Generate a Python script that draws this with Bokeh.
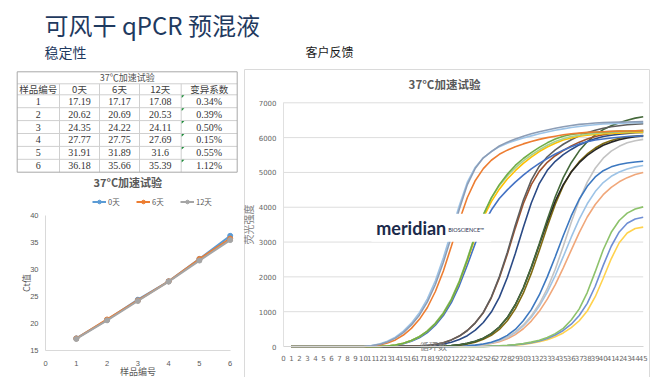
from bokeh.plotting import figure
from bokeh.models import (Range1d, FixedTicker, Legend, LegendItem, Label, BoxAnnotation,
                          LinearAxis)
from bokeh.embed import file_html
from bokeh.resources import INLINE
from bokeh.core.properties import value

CJK = "Noto Sans CJK SC"

# ---------------- texts ----------------
main_title = "可风干 qPCR 预混液"
left_heading = "稳定性"
right_heading = "客户反馈"

# ---------------- table data ----------------
table_title = "37℃加速试验"
table_headers = ["样品编号", "0天", "6天", "12天", "变异系数"]
samples = [1, 2, 3, 4, 5, 6]
ct_day0 = [17.19, 20.62, 24.35, 27.77, 31.91, 36.18]
ct_day6 = [17.17, 20.69, 24.22, 27.75, 31.89, 35.66]
ct_day12 = [17.08, 20.53, 24.11, 27.69, 31.6, 35.39]
cv_text = ["0.34%", "0.39%", "0.50%", "0.15%", "0.55%", "1.12%"]

# ---------------- left chart ----------------
left_chart_title = "37°C加速试验"
series_names = ["0天", "6天", "12天"]
series_colors = ["#5B9BD5", "#ED7D31", "#A5A5A5"]
left_ylabel = "Ct值"
left_xlabel = "样品编号"
left_yticks = [15, 20, 25, 30, 35, 40]
left_xticks = [0, 1, 2, 3, 4, 5, 6]

# ---------------- right chart (qPCR curves) ----------------
qpcr_title = "37°C加速试验"
qpcr_ylabel = "荧光强度"
qpcr_xlabel = "循环数"
cycles = list(range(1, 46))
qpcr_xticks = list(range(0, 46))
qpcr_yticks = [0, 1000, 2000, 3000, 4000, 5000, 6000, 7000]

g1_slate = [0, 0, 0, 0, 0, 0, 0, 0, 0, 0,
            20, 60, 130, 240, 400, 620, 900, 1280, 1780, 2420,
            3150, 3950, 4650, 5120, 5420, 5600, 5760, 5870, 5960, 6040,
            6110, 6170, 6220, 6270, 6310, 6350, 6380, 6400, 6420, 6430,
            6440, 6445, 6450, 6455, 6460]
g1_lightblue = [0, 0, 0, 0, 0, 0, 0, 0, 0, 0,
                25, 70, 150, 270, 440, 670, 970, 1370, 1890, 2550,
                3300, 4050, 4720, 5150, 5420, 5600, 5740, 5840, 5920, 5990,
                6050, 6110, 6160, 6210, 6250, 6290, 6320, 6350, 6370, 6390,
                6400, 6410, 6420, 6425, 6430]
g1_orange = [0, 0, 0, 0, 0, 0, 0, 0, 0, 0,
             15, 45, 100, 190, 330, 520, 780, 1120, 1580, 2170,
             2880, 3620, 4280, 4770, 5110, 5350, 5520, 5640, 5740, 5820,
             5890, 5950, 6000, 6040, 6080, 6110, 6130, 6150, 6160, 6170,
             6180, 6185, 6190, 6195, 6200]
g2_green = [0, 0, 0, 0, 0, 0, 0, 0, 0, 0, 0, 0,
            15, 45, 95, 170, 280, 440, 660, 950,
            1340, 1860, 2500, 3200, 3780, 4270, 4650, 4950, 5200, 5400,
            5570, 5720, 5850, 5960, 6040, 6090, 6120, 6140, 6155, 6165,
            6175, 6185, 6190, 6195, 6200]
g2_lightgreen = [0, 0, 0, 0, 0, 0, 0, 0, 0, 0, 0, 0,
                 15, 45, 95, 170, 285, 450, 675, 970,
                 1370, 1890, 2530, 3220, 3790, 4260, 4620, 4900, 5130, 5330,
                 5500, 5650, 5780, 5890, 5970, 6030, 6070, 6100, 6120, 6140,
                 6150, 6160, 6170, 6175, 6180]
g2_yellow = [0, 0, 0, 0, 0, 0, 0, 0, 0, 0, 0, 0,
             15, 45, 95, 170, 280, 440, 660, 950,
             1340, 1850, 2470, 3140, 3700, 4160, 4520, 4810, 5050, 5260,
             5440, 5600, 5730, 5840, 5930, 5990, 6040, 6070, 6090, 6110,
             6120, 6130, 6140, 6145, 6150]
g2_blue = [0, 0, 0, 0, 0, 0, 0, 0, 0, 0, 0, 0,
           10, 35, 80, 150, 250, 400, 610, 890,
           1260, 1750, 2340, 2970, 3500, 3920, 4250, 4500, 4720, 4920,
           5100, 5260, 5400, 5530, 5640, 5740, 5820, 5880, 5930, 5960,
           5990, 6010, 6030, 6040, 6050]
g3_darkgray = [0, 0, 0, 0, 0, 0, 0, 0, 0, 0, 0, 0, 0, 0, 0, 0,
               10, 30, 60, 110,
               190, 300, 460, 680, 980, 1420, 2000, 2700, 3480, 4200,
               4780, 5180, 5450, 5650, 5810, 5940, 6050, 6140, 6210, 6270,
               6310, 6340, 6370, 6385, 6400]
g3_brown = [0, 0, 0, 0, 0, 0, 0, 0, 0, 0, 0, 0, 0, 0, 0, 0,
            10, 30, 60, 110,
            190, 300, 460, 680, 970, 1400, 1970, 2650, 3400, 4100,
            4650, 5030, 5290, 5480, 5630, 5760, 5870, 5960, 6030, 6080,
            6120, 6150, 6170, 6190, 6200]
g3_navy = [0, 0, 0, 0, 0, 0, 0, 0, 0, 0, 0, 0, 0, 0, 0, 0, 0,
           15, 35, 70,
           120, 200, 310, 470, 690, 990, 1410, 1980, 2670, 3420,
           4120, 4680, 5060, 5320, 5510, 5660, 5790, 5890, 5970, 6030,
           6070, 6100, 6120, 6140, 6150]
g4_darkgreen = [0, 0, 0, 0, 0, 0, 0, 0, 0, 0, 0, 0, 0, 0, 0, 0, 0, 0, 0,
                10,
                25, 50, 90, 150, 240, 370, 560, 830, 1200, 1680,
                2280, 2950, 3650, 4300, 4850, 5280, 5620, 5880, 6080, 6230,
                6340, 6430, 6500, 6560, 6600]
g4_black = [0, 0, 0, 0, 0, 0, 0, 0, 0, 0, 0, 0, 0, 0, 0, 0, 0, 0, 0,
            10,
            25, 50, 90, 150, 240, 370, 560, 830, 1200, 1680,
            2270, 2920, 3580, 4180, 4650, 5010, 5280, 5490, 5650, 5780,
            5870, 5940, 5990, 6025, 6050]
g4_olive = [0, 0, 0, 0, 0, 0, 0, 0, 0, 0, 0, 0, 0, 0, 0, 0, 0, 0, 0,
            8,
            20, 40, 75, 125, 205, 320, 490, 740, 1080, 1530,
            2100, 2760, 3450, 4090, 4620, 5020, 5310, 5530, 5700, 5830,
            5920, 5980, 6020, 6045, 6060]
g5_blue = [0, 0, 0, 0, 0, 0, 0, 0, 0, 0, 0, 0, 0, 0, 0, 0, 0, 0, 0, 0, 0,
           10, 20, 40, 70, 120, 200, 320, 490, 740,
           1060, 1480, 2000, 2580, 3180, 3750, 4230, 4600, 4870, 5050,
           5160, 5230, 5270, 5300, 5320]
g5_lightgray = [0, 0, 0, 0, 0, 0, 0, 0, 0, 0, 0, 0, 0, 0, 0, 0, 0, 0, 0, 0, 0,
                10, 20, 35, 60, 100, 170, 270, 420, 620,
                880, 1220, 1660, 2220, 2880, 3570, 4200, 4720, 5120, 5410,
                5610, 5750, 5850, 5910, 5950]
g5_lightblue = [0, 0, 0, 0, 0, 0, 0, 0, 0, 0, 0, 0, 0, 0, 0, 0, 0, 0, 0, 0, 0,
                10, 20, 35, 60, 100, 165, 260, 400, 590,
                840, 1160, 1560, 2040, 2580, 3140, 3660, 4100, 4450, 4710,
                4890, 5010, 5100, 5160, 5200]
g5_orange = [0, 0, 0, 0, 0, 0, 0, 0, 0, 0, 0, 0, 0, 0, 0, 0, 0, 0, 0, 0, 0,
             10, 20, 30, 50, 85, 140, 220, 340, 510,
             730, 1010, 1360, 1780, 2260, 2770, 3270, 3720, 4080, 4360,
             4570, 4730, 4850, 4940, 5000]
g6_green = [0, 0, 0, 0, 0, 0, 0, 0, 0, 0, 0, 0, 0, 0, 0, 0, 0, 0, 0, 0, 0, 0, 0, 0, 0,
            10, 20, 35, 55, 85,
            125, 180, 260, 370, 520, 760, 1080, 1550, 2150, 2780,
            3280, 3620, 3830, 3950, 4010]
g6_blue = [0, 0, 0, 0, 0, 0, 0, 0, 0, 0, 0, 0, 0, 0, 0, 0, 0, 0, 0, 0, 0, 0, 0, 0, 0,
           10, 18, 30, 48, 75,
           110, 160, 230, 330, 460, 640, 890, 1240, 1730, 2330,
           2880, 3290, 3540, 3660, 3710]
g6_yellow = [0, 0, 0, 0, 0, 0, 0, 0, 0, 0, 0, 0, 0, 0, 0, 0, 0, 0, 0, 0, 0, 0, 0, 0, 0,
             8, 15, 25, 40, 62,
             92, 135, 195, 280, 390, 540, 740, 1020, 1430, 1960,
             2520, 2980, 3260, 3390, 3430]

curves = [
    (g6_yellow, "#FFD24D"), (g6_blue, "#6F8ED4"), (g6_green, "#8DC26B"),
    (g5_orange, "#F0A77A"), (g5_lightblue, "#9DC3E6"), (g5_lightgray, "#C3C3C3"), (g5_blue, "#3C78C0"),
    (g4_olive, "#7F6A10"), (g4_black, "#262626"), (g4_darkgreen, "#44683A"),
    (g3_navy, "#2B4A85"), (g3_brown, "#A0522D"), (g3_darkgray, "#5E5E5E"),
    (g2_blue, "#4472C4"), (g2_yellow, "#FFC000"), (g2_lightgreen, "#A9D18E"), (g2_green, "#70AD47"),
    (g1_orange, "#ED7D31"), (g1_lightblue, "#9DC3E6"), (g1_slate, "#8C9DB6"),
]

# ---------------- page geometry (page pixels) ----------------
OX, OY = 1, 1          # where the canvas lands on the page
W, H = 650, 377


def span_range(d0, p0, d1, p1, f0, f1):
    """Range whose value d0 sits at page pixel p0 and d1 at p1, for a frame f0 (start) .. f1 (end)."""
    k = (p1 - p0) / (d1 - d0)
    return Range1d(d0 + (f0 - p0) / k, d0 + (f1 - p0) / k)


p = figure(width=W, height=H, x_range=Range1d(OX, OX + W), y_range=Range1d(OY + H, OY),
           x_axis_location=None, y_axis_location=None, min_border=0,
           output_backend="svg", toolbar_location=None)
p.outline_line_color = None
p.grid.visible = False
p.extra_x_ranges = {
    "lx": span_range(0, 46.0, 6, 230.7, OX, OX + W),
    "rx": span_range(0, 284.0, 45, 643.7, OX, OX + W),
}
p.extra_y_ranges = {
    "ly": span_range(15, 350.7, 40, 215.7, OY + H, OY),
    "ry": span_range(0, 347.0, 7000, 103.3, OY + H, OY),
}

# ---------------- header ----------------
p.text(x=[45], y=[25], text=[main_title], text_font=value(CJK), text_font_size="24px",
       text_color="#1F3A5F", text_baseline="middle")
p.text(x=[45], y=[52.5], text=[left_heading], text_font=value(CJK), text_font_size="14px",
       text_color="#1F3A5F", text_baseline="middle")
p.text(x=[306], y=[52], text=[right_heading], text_font=value(CJK), text_font_size="12px",
       text_color="#1A1A1A", text_baseline="middle")

# ---------------- table ----------------
cb = [17.7, 60, 100, 140, 181.7, 237.7]
rb = [72.3, 84.3, 95.3, 108.2, 121.1, 134.0, 146.9, 159.8, 172.7]
inner = "#CFCFCF"
outer = "#A8A8A8"
p.segment(x0=[cb[0]] * (len(rb) - 2), x1=[cb[-1]] * (len(rb) - 2), y0=rb[1:-1], y1=rb[1:-1],
          line_color=inner, line_width=1)
p.segment(x0=cb[1:-1], x1=cb[1:-1], y0=[rb[1]] * 4, y1=[rb[-1]] * 4, line_color=inner, line_width=1)
p.segment(x0=[cb[0], cb[0], cb[0], cb[-1]], x1=[cb[-1], cb[-1], cb[0], cb[-1]],
          y0=[rb[0], rb[-1], rb[0], rb[0]], y1=[rb[0], rb[-1], rb[-1], rb[-1]],
          line_color=outer, line_width=1)
ccx = [(cb[i] + cb[i + 1]) / 2 for i in range(5)]
rcy = [(rb[i] + rb[i + 1]) / 2 for i in range(len(rb) - 1)]
p.text(x=[(cb[0] + cb[-1]) / 2], y=[rcy[0]], text=[table_title], text_font=value(CJK),
       text_font_size="9px", text_color="#505050", text_align="center", text_baseline="middle")
p.text(x=ccx, y=[rcy[1]] * 5, text=table_headers, text_font=value(CJK), text_font_size="9.5px",
       text_color="#404040", text_align="center", text_baseline="middle")
cols = [[str(s) for s in samples], [str(v) for v in ct_day0], [str(v) for v in ct_day6],
        [str(v) for v in ct_day12], cv_text]
for ci, colvals in enumerate(cols):
    p.text(x=[ccx[ci]] * len(colvals), y=rcy[2:], text=colvals, text_font=value("Liberation Serif"),
           text_font_size="10px", text_color="#333333", text_align="center", text_baseline="middle")
tri_x = [[cb[4] + 0.5, cb[4] + 3.2, cb[4] + 0.5] for _ in samples]
tri_y = [[rb[2 + i] + 0.5, rb[2 + i] + 0.5, rb[2 + i] + 3.2] for i in range(len(samples))]
p.patches(xs=tri_x, ys=tri_y, fill_color="#1E8C3A", line_color=None)

# ---------------- left line chart ----------------
ly_axis = LinearAxis(x_range_name="lx", y_range_name="ly", fixed_location=0, bounds=(15, 40),
                     ticker=FixedTicker(ticks=left_yticks), axis_label=left_ylabel)
lx_axis = LinearAxis(x_range_name="lx", y_range_name="ly", fixed_location=15, bounds=(0, 6),
                     ticker=FixedTicker(ticks=left_xticks), axis_label=left_xlabel)
for ax in (lx_axis, ly_axis):
    ax.axis_line_color = "#D9D9D9"
    ax.major_tick_line_color = None
    ax.minor_tick_line_color = None
    ax.major_label_text_font_size = "7.5px"
    ax.major_label_text_color = "#595959"
    ax.axis_label_text_font = CJK
    ax.axis_label_text_font_size = "9px"
    ax.axis_label_text_font_style = "normal"
    ax.axis_label_text_color = "#595959"
ly_axis.major_label_standoff = 1
ly_axis.axis_label_standoff = -6
lx_axis.major_label_standoff = 5
lx_axis.axis_label_standoff = -5
p.add_layout(ly_axis, "left")
p.add_layout(lx_axis, "below")

items = []
for name, vals, col in zip(series_names, [ct_day0, ct_day6, ct_day12], series_colors):
    r1 = p.line(samples, vals, line_color=col, line_width=2, x_range_name="lx", y_range_name="ly")
    r2 = p.scatter(samples, vals, size=5, fill_color=col, line_color=col,
                   x_range_name="lx", y_range_name="ly")
    items.append(LegendItem(label=name, renderers=[r1, r2]))
leg = Legend(items=items, location=(92, OY + H - 207.5), orientation="horizontal", padding=0,
             margin=0, spacing=8, glyph_width=14, glyph_height=9, label_height=9, label_standoff=2,
             label_text_font_size="7.5px", label_text_color="#595959", label_text_font=CJK,
             background_fill_alpha=0, border_line_color=None)
p.add_layout(leg)
p.text(x=[128.3], y=[182.7], text=[left_chart_title], text_font=value(CJK), text_font_size="11px",
       text_font_style="bold", text_color="#595959", text_align="center", text_baseline="middle")

# ---------------- right qPCR chart ----------------
p.segment(x0=[245, 245, 650], x1=[650, 245, 650], y0=[70, 70, 70], y1=[70, OY + H, OY + H],
          line_color="#DADADA", line_width=1)
p.segment(x0=[0] * 7, x1=[45] * 7, y0=qpcr_yticks[1:], y1=qpcr_yticks[1:],
          line_color="#DDDDDD", line_width=1, x_range_name="rx", y_range_name="ry")
ry_axis = LinearAxis(x_range_name="rx", y_range_name="ry", fixed_location=0, bounds=(0, 7000),
                     ticker=FixedTicker(ticks=qpcr_yticks), axis_label=qpcr_ylabel)
rx_axis = LinearAxis(x_range_name="rx", y_range_name="ry", fixed_location=0, bounds=(0, 45),
                     ticker=FixedTicker(ticks=qpcr_xticks))
for ax in (rx_axis, ry_axis):
    ax.major_tick_line_color = None
    ax.minor_tick_line_color = None
    ax.major_label_text_font_size = "7px"
    ax.major_label_text_color = "#666666"
    ax.major_label_text_font = "DejaVu Sans"
ry_axis.major_label_standoff = 1
rx_axis.major_label_standoff = 2
rx_axis.axis_line_color = "#D5D5D5"
ry_axis.axis_line_color = "#E0E0E0"
ry_axis.axis_label_standoff = 0
ry_axis.axis_label_text_font = CJK
ry_axis.axis_label_text_font_size = "10px"
ry_axis.axis_label_text_font_style = "normal"
ry_axis.axis_label_text_color = "#808080"
p.add_layout(ry_axis, "left")
p.add_layout(rx_axis, "below")

for vals, col in curves:
    p.line(cycles, vals, line_color=col, line_width=1.6, x_range_name="rx", y_range_name="ry")
p.text(x=[445], y=[84], text=[qpcr_title], text_font=value(CJK), text_font_size="11.5px",
       text_font_style="bold", text_color="#595959", text_align="center", text_baseline="middle")
p.text(x=[434], y=[346.7], text=[qpcr_xlabel], text_font=value(CJK), text_font_size="9px",
       text_color="#808080", text_align="center", text_baseline="middle")
p.add_layout(BoxAnnotation(left=11.0, right=26.0, bottom=3012, top=3815, fill_color="white",
                           fill_alpha=1.0, line_color=None, x_range_name="rx", y_range_name="ry"))
p.add_layout(Label(x=11.6, y=3414, text="meridian", text_font="Lato", text_font_style="bold",
                   text_font_size="18px", text_color="#1B2A4A", text_baseline="middle",
                   x_range_name="rx", y_range_name="ry"))
p.add_layout(Label(x=20.6, y=3336, text="BIOSCIENCE™", text_font="Lato", text_font_size="5.5px",
                   text_color="#1B2A4A", text_baseline="middle", x_range_name="rx", y_range_name="ry"))

open("out.html", "w").write(file_html(p, INLINE))
